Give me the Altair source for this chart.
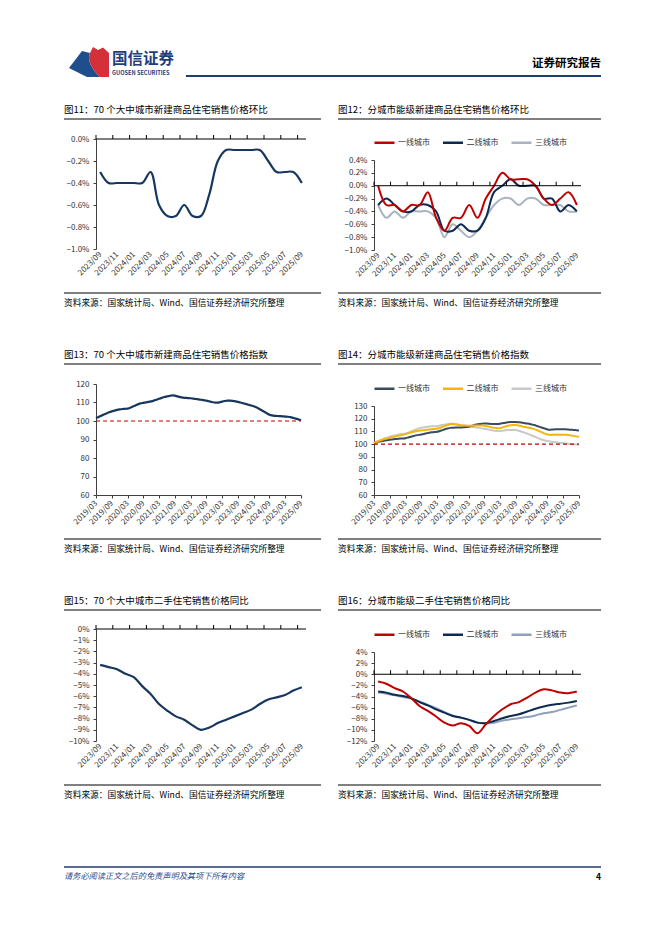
import altair as alt
import pandas as pd

FONT = "Noto Sans CJK SC"

# ---------------- data ----------------
months_a = pd.date_range("2023-09-01", "2025-09-01", freq="MS").strftime("%Y/%m").tolist()
months_b = pd.date_range("2019-03-01", "2025-09-01", freq="MS").strftime("%Y/%m").tolist()

tiers = ["一线城市", "二线城市", "三线城市"]

# 图11 70城新建商品住宅环比 (%)
new_mom_70 = [-0.3, -0.4, -0.4, -0.4, -0.4, -0.4, -0.3, -0.6, -0.7, -0.7, -0.6, -0.7, -0.7,
              -0.5, -0.2, -0.1, -0.1, -0.1, -0.1, -0.1, -0.2, -0.3, -0.3, -0.3, -0.4]

# 图12 分能级新建环比 (%)
new_mom_t1 = [0.0, -0.3, -0.3, -0.4, -0.3, -0.3, -0.1, -0.5, -0.7, -0.5, -0.5, -0.3, -0.5,
              -0.2, 0.0, 0.2, 0.1, 0.1, 0.1, 0.0, -0.2, -0.3, -0.2, -0.1, -0.3]
new_mom_t2 = [-0.3, -0.2, -0.3, -0.4, -0.4, -0.3, -0.3, -0.4, -0.7, -0.7, -0.6, -0.7, -0.7,
              -0.5, -0.1, 0.0, 0.1, 0.0, 0.0, 0.0, -0.2, -0.2, -0.4, -0.3, -0.4]
new_mom_t3 = [-0.3, -0.5, -0.4, -0.5, -0.4, -0.4, -0.4, -0.5, -0.8, -0.6, -0.7, -0.8, -0.7,
              -0.5, -0.3, -0.2, -0.2, -0.3, -0.2, -0.2, -0.3, -0.3, -0.3, -0.4, -0.4]

# 图13 70城新建商品住宅价格指数
new_idx_70 = [101.6, 102.2, 102.9, 103.5, 104.1, 104.7, 105.2, 105.6, 106.0, 106.3,
              106.5, 106.6, 106.7, 107.2, 107.8, 108.4, 109.0, 109.5, 109.8, 110.1, 110.3, 110.6,
              111.0, 111.5, 112.0, 112.5, 113.0, 113.3, 113.6, 113.8, 113.7, 113.3, 112.9, 112.6,
              112.5, 112.4, 112.3, 112.1, 111.9, 111.7, 111.5, 111.3, 111.0, 110.7, 110.3, 110.0,
              109.9, 110.1, 110.5, 110.8, 111.0, 111.0, 110.9, 110.6, 110.3, 110.0, 109.6, 109.2,
              108.8, 108.4, 108.0, 107.4, 106.6, 105.8, 105.0, 104.2, 103.4, 103.0, 102.8, 102.7,
              102.6, 102.5, 102.4, 102.3, 102.1, 101.7, 101.3, 100.9, 100.4]

# 图14 分能级新建价格指数
new_idx_t1 = [101.0, 101.5, 102.0, 102.4, 102.8, 103.1, 103.4, 103.7, 104.0, 104.2,
              104.4, 104.5, 104.7, 105.2, 105.8, 106.4, 106.9, 107.3, 107.6, 108.0, 108.5, 109.0,
              109.3, 109.5, 109.7, 110.3, 111.0, 111.7, 112.3, 112.8, 112.9, 113.0, 113.0, 113.1,
              113.2, 113.4, 113.7, 114.3, 114.9, 115.4, 115.8, 116.1, 116.3, 116.2, 116.0, 115.9,
              115.8, 115.9, 116.1, 116.5, 116.9, 117.2, 117.4, 117.5, 117.4, 117.2, 117.0, 116.7,
              116.3, 116.0, 115.5, 115.0, 114.3, 113.6, 112.9, 112.2, 111.6, 111.4, 111.5, 111.7,
              111.8, 111.8, 111.8, 111.7, 111.5, 111.3, 111.1, 111.0, 110.8]
new_idx_t2 = [101.0, 101.8, 102.6, 103.3, 104.0, 104.5, 105.0, 105.5, 106.0, 106.5,
              107.0, 107.3, 107.9, 108.5, 109.1, 109.7, 110.2, 110.6, 110.8, 111.0, 111.3, 111.6,
              111.8, 112.0, 112.1, 112.8, 113.6, 114.4, 115.1, 115.6, 115.8, 115.6, 115.2, 114.9,
              114.7, 114.6, 114.5, 114.5, 114.6, 114.7, 114.7, 114.6, 114.5, 114.1, 113.6, 113.1,
              112.8, 112.6, 112.6, 113.2, 113.9, 114.5, 114.9, 115.1, 115.0, 114.6, 114.2, 113.7,
              113.3, 112.9, 112.4, 111.8, 111.0, 110.1, 109.2, 108.3, 107.6, 107.3, 107.3, 107.4,
              107.4, 107.4, 107.4, 107.3, 107.1, 106.8, 106.5, 106.1, 105.8]
new_idx_t3 = [101.0, 101.9, 102.8, 103.6, 104.4, 105.1, 105.8, 106.4, 106.9, 107.4,
              107.8, 108.0, 108.4, 109.1, 109.9, 110.8, 111.6, 112.3, 112.9, 113.2, 113.5, 113.8,
              114.0, 114.1, 114.2, 114.6, 115.0, 115.4, 115.7, 116.0, 116.0, 115.7, 115.2, 114.8,
              114.5, 114.3, 114.0, 113.7, 113.4, 113.1, 112.8, 112.4, 112.1, 111.7, 111.3, 110.9,
              110.5, 110.3, 110.3, 110.6, 110.9, 111.1, 111.2, 111.2, 111.1, 110.6, 110.0, 109.3,
              108.5, 107.7, 106.8, 106.0, 105.1, 104.3, 103.5, 102.9, 102.4, 102.0, 101.7, 101.4,
              101.2, 101.0, 100.8, 100.6, 100.3, 100.1, 99.9, 99.7, 99.5]

# 图15 70城二手住宅同比 (%)
sh_yoy_70 = [-3.2, -3.4, -3.6, -4.0, -4.3, -5.1, -5.8, -6.7, -7.3, -7.8, -8.1, -8.6, -9.0,
             -8.8, -8.4, -8.1, -7.8, -7.5, -7.2, -6.7, -6.3, -6.1, -5.9, -5.5, -5.2]

# 图16 分能级二手住宅同比 (%)
sh_yoy_t1 = [-1.3, -1.7, -2.5, -3.1, -4.3, -5.7, -6.6, -7.6, -8.7, -9.2, -8.8, -9.3, -10.6,
             -9.0, -7.5, -6.3, -5.4, -5.0, -4.2, -3.3, -2.7, -2.9, -3.3, -3.4, -3.1]
sh_yoy_t2 = [-3.1, -3.3, -3.7, -3.9, -4.3, -5.0, -5.6, -6.3, -6.9, -7.5, -7.8, -8.2, -8.7,
             -8.8, -8.4, -7.9, -7.5, -7.2, -6.7, -6.2, -5.8, -5.5, -5.3, -5.1, -4.8]
sh_yoy_t3 = [-3.3, -3.5, -3.8, -4.1, -4.4, -4.9, -5.5, -6.1, -6.8, -7.4, -7.8, -8.2, -8.7,
             -8.8, -8.7, -8.3, -8.1, -7.9, -7.7, -7.4, -7.0, -6.8, -6.4, -6.0, -5.6]

titles = ["图11：70 个大中城市新建商品住宅销售价格环比",
          "图12：分城市能级新建商品住宅销售价格环比",
          "图13：70 个大中城市新建商品住宅销售价格指数",
          "图14：分城市能级新建商品住宅销售价格指数",
          "图15：70 个大中城市二手住宅销售价格同比",
          "图16：分城市能级二手住宅销售价格同比"]
source_text = "资料来源：国家统计局、Wind、国信证券经济研究所整理"

# ---------------- helpers ----------------
one = pd.DataFrame({"k": [0]})
NAVY = "#17375E"


def long_df(months, series):
    rows = []
    for name, vals in series:
        for m, v in zip(months, vals):
            rows.append({"month": m, "series": name, "value": v})
    return pd.DataFrame(rows)


def short_x():
    return alt.X("month:O", sort=months_a,
                 scale=alt.Scale(type="point", domain=months_a, padding=0.5),
                 axis=alt.Axis(values=months_a[::2], labelAngle=-45, labelAlign="right",
                               labelBaseline="middle", domain=False, ticks=False,
                               labelPadding=4, title=None, labelOverlap=False))


def long_x():
    return alt.X("month:O", sort=months_b,
                 scale=alt.Scale(type="point", domain=months_b, padding=0),
                 axis=alt.Axis(values=months_b[::6], labelAngle=-45, labelAlign="right",
                               labelBaseline="middle", tickSize=3, labelPadding=4, title=None,
                               labelOverlap=False))


def y_enc(lo, hi, step, expr):
    vals = []
    v = lo
    while v <= hi + 1e-9:
        vals.append(round(v, 4))
        v += step
    return alt.Y("value:Q", scale=alt.Scale(domain=[lo, hi], nice=False, zero=False),
                 axis=alt.Axis(values=vals, tickCount=len(vals), labelExpr=expr, title=None,
                               tickSize=3, labelOverlap=False, labelFlush=False,
                               labelPadding=4))


def zero_layers(width, height, lo, hi):
    delta = 4 * (hi - lo) / height
    z = alt.Chart(one).mark_rule(color="#000", strokeWidth=1).encode(
        x=alt.value(0), x2=alt.value(width), y=alt.datum(0))
    tdf = pd.DataFrame({"month": months_a[::2]})
    t = alt.Chart(tdf).mark_rule(color="#000", strokeWidth=1, xOffset=-width / 50).encode(
        x=short_x(), y=alt.datum(0), y2=alt.datum(delta))
    return [z, t]


def legend():
    return alt.Legend(orient="none", legendX=-1, legendY=-29, direction="horizontal",
                      title=None, symbolType="stroke", symbolSize=400, symbolStrokeWidth=2.5,
                      labelFont=FONT, labelFontSize=8, labelColor="#333", columnPadding=7.5,
                      labelOffset=2, padding=0)


def txt(s, px, py, ox, oy, size, color="#000", weight="normal", align="left", style="normal"):
    return alt.Chart(one).mark_text(text=s, font=FONT, fontSize=size, color=color,
                                    fontWeight=weight, align=align, baseline="middle",
                                    fontStyle=style).encode(
        x=alt.value(px - ox), y=alt.value(py - oy))


def rule(x1, y1, x2, y2, ox, oy, color="#000", width=1):
    return alt.Chart(one).mark_rule(color=color, strokeWidth=width).encode(
        x=alt.value(x1 - ox), y=alt.value(y1 - oy), x2=alt.value(x2 - ox), y2=alt.value(y2 - oy))


def panel_decor(idx, ox, oy):
    row = idx // 2
    left = idx % 2 == 0
    x0, x1 = (63, 320) if left else (337, 600)
    ty = [109, 354, 600][row]
    uy = [118, 363, 609][row]
    sy = [292, 538, 784][row]
    so = [302, 548, 794][row]
    return [txt(titles[idx], x0, ty, ox, oy, 9.5),
            rule(x0, uy, x1, uy, ox, oy),
            rule(x0, sy, x1, sy, ox, oy),
            txt(source_text, x0, so, ox, oy, 8.7)]


def spacer(w, h):
    return alt.Chart(one).mark_point(opacity=0).encode(
        x=alt.value(0), y=alt.value(0)).properties(width=w, height=h)


PCT1 = "format(datum.value, '.1f') + '%'"
PCT0 = "format(datum.value, 'd') + '%'"
INT = "format(datum.value, 'd')"

# ---------------- panel 1 ----------------
W1, H1, O1 = 210, 110, (95, 138)
df1 = pd.DataFrame({"month": months_a, "value": new_mom_70})
line1 = alt.Chart(df1).mark_line(strokeWidth=2.2, interpolate="catmull-rom", color=NAVY).encode(
    x=short_x(), y=y_enc(-1.0, 0.0, 0.2, PCT1))
ox, oy = O1
logo_blue = ("M -1 0.3 L -0.35 -0.55 L 0.05 -0.45 C -0.1 -0.1 0.1 0.3 0.55 0.75 "
             "L -0.1 0.75 Z")
logo_red = ("M 0.05 -0.45 L 0.2 -0.75 L 0.45 -0.6 L 0.7 -0.72 L 1 -0.45 L 1 0.75 "
            "L 0.55 0.75 C 0.1 0.3 -0.1 -0.1 0.05 -0.45 Z")
page_decor = [
    # anchor for page origin
    rule(8, 8, 9, 8, ox, oy, color="#ffffff", width=1),
    alt.Chart(one).mark_point(shape=logo_blue, size=1600, filled=True, color="#1F4E8C",
                              opacity=1).encode(x=alt.value(88 - ox), y=alt.value(61 - oy)),
    alt.Chart(one).mark_point(shape=logo_red, size=1600, filled=True, color="#D3303A",
                              opacity=1).encode(x=alt.value(88 - ox), y=alt.value(61 - oy)),
    txt("国信证券", 111, 58, ox, oy, 15.5, color="#1F3F7A", weight="bold"),
    txt("GUOSEN SECURITIES", 111, 72, ox, oy, 5.6, color="#1F3F7A", weight="bold"),
    txt("证券研究报告", 600, 63, ox, oy, 11.5, weight="bold", align="right"),
    rule(185, 75, 600, 75, ox, oy, color="#1F3F6E", width=2),
    rule(63, 866, 600, 866, ox, oy, color="#1F3F6E", width=1.5),
    txt("请务必阅读正文之后的免责声明及其项下所有内容", 63, 876, ox, oy, 8.2,
        color="#2B4C8C", style="italic"),
    txt("4", 600, 876, ox, oy, 8.5, weight="bold", align="right"),
]
p1 = alt.layer(line1, *zero_layers(W1, H1, -1.0, 0.0), *panel_decor(0, *O1),
               *page_decor).properties(width=W1, height=H1)

# ---------------- panel 2 ----------------
W2, H2, O2 = 207, 90, (373, 159)
col2 = ["#C00000", "#0D2B52", "#A9B3BF"]
df2 = long_df(months_a, [(tiers[2], new_mom_t3), (tiers[1], new_mom_t2), (tiers[0], new_mom_t1)])
line2 = alt.Chart(df2).mark_line(strokeWidth=2, interpolate="catmull-rom").encode(
    x=short_x(), y=y_enc(-1.0, 0.4, 0.2, PCT1),
    color=alt.Color("series:N", scale=alt.Scale(domain=tiers, range=col2), legend=legend()),
    detail="series:N")
p2 = alt.layer(line2, *zero_layers(W2, H2, -1.0, 0.4), *panel_decor(1, *O2)).properties(
    width=W2, height=H2)

# ---------------- panel 3 ----------------
W3, H3, O3 = 205, 111, (95, 383)
df3 = pd.DataFrame({"month": months_b, "value": new_idx_70})
line3 = alt.Chart(df3).mark_line(strokeWidth=2.2, interpolate="catmull-rom", color=NAVY).encode(
    x=long_x(), y=y_enc(60, 120, 10, INT))
ref3 = alt.Chart(one).mark_rule(color="#C00000", strokeDash=[4, 3], strokeWidth=1.2).encode(
    x=alt.value(0), x2=alt.value(W3), y=alt.datum(100))
p3 = alt.layer(line3, ref3, *panel_decor(2, *O3)).properties(width=W3, height=H3)

# ---------------- panel 4 ----------------
W4, H4, O4 = 205, 89, (373, 405)
col4 = ["#3A4A5F", "#F5B50A", "#C9C9C9"]
df4 = long_df(months_b, [(tiers[2], new_idx_t3), (tiers[0], new_idx_t1), (tiers[1], new_idx_t2)])
line4 = alt.Chart(df4).mark_line(strokeWidth=2, interpolate="catmull-rom").encode(
    x=long_x(), y=y_enc(60, 130, 10, INT),
    color=alt.Color("series:N", scale=alt.Scale(domain=tiers, range=col4), legend=legend()),
    detail="series:N")
ref4 = alt.Chart(one).mark_rule(color="#C00000", strokeDash=[4, 3], strokeWidth=1.2).encode(
    x=alt.value(0), x2=alt.value(W4), y=alt.datum(100))
p4 = alt.layer(line4, ref4, *panel_decor(3, *O4)).properties(width=W4, height=H4)

# ---------------- panel 5 ----------------
W5, H5, O5 = 210, 112, (95, 628)
df5 = pd.DataFrame({"month": months_a, "value": sh_yoy_70})
line5 = alt.Chart(df5).mark_line(strokeWidth=2.2, interpolate="catmull-rom", color=NAVY).encode(
    x=short_x(), y=y_enc(-10, 0, 1, PCT0))
p5 = alt.layer(line5, *zero_layers(W5, H5, -10, 0), *panel_decor(4, *O5)).properties(
    width=W5, height=H5)

# ---------------- panel 6 ----------------
W6, H6, O6 = 207, 89, (373, 651)
col6 = ["#C00000", "#0D2B52", "#8EA0BA"]
df6 = long_df(months_a, [(tiers[2], sh_yoy_t3), (tiers[1], sh_yoy_t2), (tiers[0], sh_yoy_t1)])
line6 = alt.Chart(df6).mark_line(strokeWidth=2, interpolate="catmull-rom").encode(
    x=short_x(), y=y_enc(-12, 4, 2, PCT0),
    color=alt.Color("series:N", scale=alt.Scale(domain=tiers, range=col6), legend=legend()),
    detail="series:N")
p6 = alt.layer(line6, *zero_layers(W6, H6, -12, 4), *panel_decor(5, *O6)).properties(
    width=W6, height=H6)


# ---------------- layout ----------------
def indep(c):
    return c.resolve_scale(color="independent").resolve_legend(color="independent")


r1 = indep(alt.hconcat(p1, indep(alt.vconcat(spacer(W2, 21), p2, spacing=0, bounds="flush")),
                       spacing=373 - 95 - W1, bounds="flush"))
r2 = indep(alt.hconcat(p3, indep(alt.vconcat(spacer(W4, 22), p4, spacing=0, bounds="flush")),
                       spacing=373 - 95 - W3, bounds="flush"))
r3 = indep(alt.hconcat(p5, indep(alt.vconcat(spacer(W6, 23), p6, spacing=0, bounds="flush")),
                       spacing=373 - 95 - W5, bounds="flush"))

# nested concat groups count as zero height under flush bounds, so the spacing is row-to-row
chart = indep(alt.vconcat(r1, r2, r3, spacing=245, bounds="flush")).properties(
    padding=0, background="#ffffff"
).configure_view(stroke=None).configure_axis(
    labelFont=FONT, labelFontSize=8, labelColor="#333333", domainColor="#404040",
    tickColor="#404040", grid=False
)

chart.save("out.html", embed_options={"renderer": "svg", "actions": False})
